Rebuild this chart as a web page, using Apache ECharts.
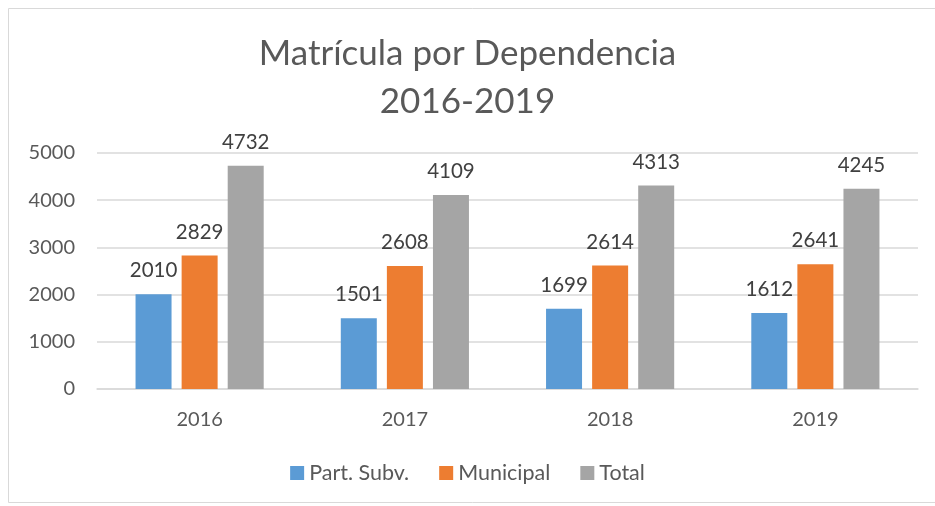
<!DOCTYPE html>
<html>
<head>
<meta charset="utf-8">
<script src="https://cdn.jsdelivr.net/npm/echarts@6/dist/echarts.min.js"></script>
<style>
  html, body { margin: 0; padding: 0; background: #fff; }
  #chart { width: 935px; height: 506px; }
</style>
</head>
<body>
<div id="chart"></div>
<script>
const years = ['2016', '2017', '2018', '2019']
const partSubv = [2010, 1501, 1699, 1612]
const municipal = [2829, 2608, 2614, 2641]
const total = [4732, 4109, 4313, 4245]
const seriesNames = ['Part. Subv.', 'Municipal', 'Total']
const colors = ['#5B9BD5', '#ED7D31', '#A5A5A5']

const FONT = 'Lato, "Noto Sans", sans-serif'
const chart = echarts.init(document.getElementById('chart'))

function barSeries(name, data, color) {
  return {
    name: name,
    type: 'bar',
    data: data,
    barWidth: 36,
    barGap: '28%',
    itemStyle: { color: color },
    label: {
      show: true,
      position: 'top',
      distance: 13,
      color: '#404040',
      fontSize: 20.5,
      fontFamily: FONT
    }
  }
}

chart.setOption({
  animation: false,
  color: colors,
  graphic: [{
    type: 'rect',
    shape: { x: 8.5, y: 8.5, width: 940, height: 494 },
    style: { fill: 'none', stroke: '#d9d9d9', lineWidth: 1 },
    silent: true
  }],
  title: {
    text: 'Matrícula por Dependencia\n2016-2019',
    left: 'center',
    top: 25,
    textStyle: {
      color: '#595959',
      fontSize: 35,
      fontWeight: 'normal',
      fontFamily: FONT,
      lineHeight: 48
    }
  },
  legend: {
    data: seriesNames,
    bottom: 17,
    left: 'center',
    icon: 'rect',
    itemWidth: 14,
    itemHeight: 14,
    itemGap: 30,
    textStyle: { color: '#595959', fontSize: 21.5, fontFamily: FONT }
  },
  grid: { left: 97, right: 17, top: 153, bottom: 117 },
  xAxis: {
    type: 'category',
    data: years,
    axisLine: { lineStyle: { color: '#d9d9d9', width: 1.5 } },
    axisTick: { show: false },
    axisLabel: { color: '#595959', fontSize: 20, fontFamily: FONT, margin: 21 }
  },
  yAxis: {
    type: 'value',
    min: 0,
    max: 5000,
    interval: 1000,
    axisLine: { show: false },
    axisTick: { show: false },
    splitLine: { lineStyle: { color: '#d9d9d9', width: 1.5 } },
    axisLabel: {
      color: '#595959', fontSize: 20, fontFamily: FONT, margin: 22,
      formatter: v => String(v)
    }
  },
  series: [
    barSeries(seriesNames[0], partSubv, colors[0]),
    barSeries(seriesNames[1], municipal, colors[1]),
    barSeries(seriesNames[2], total, colors[2])
  ]
})
</script>
</body>
</html>
